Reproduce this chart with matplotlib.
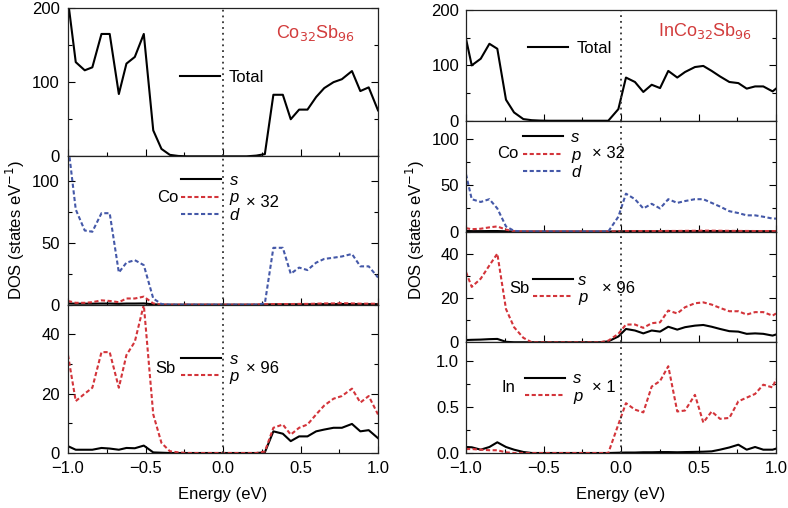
import numpy as np
import matplotlib
matplotlib.use('Agg')
import matplotlib.pyplot as plt
from matplotlib.ticker import MultipleLocator, FuncFormatter

plt.rcParams['font.family'] = ['Liberation Sans', 'DejaVu Sans']
plt.rcParams['font.size'] = 10

# ---- Co32Sb96 (left column) ----
E_L = [-1.0, -0.95, -0.892, -0.843, -0.784, -0.731, -0.672, -0.623, -0.569, -0.511,
       -0.45, -0.397, -0.343, -0.288, -0.233, -0.178, -0.123, -0.068, -0.013, 0.042,
       0.097, 0.152, 0.215, 0.27, 0.325, 0.386, 0.437, 0.491, 0.545, 0.601,
       0.653, 0.713, 0.767, 0.832, 0.886, 0.94, 1.0]
total_L = [210, 127, 116, 120, 165, 165, 84, 125, 134, 165,
           35, 10, 2, 0.5, 0, 0, 0, 0, 0, 0,
           0, 0, 1, 3, 83, 83, 50, 63, 63, 80,
           92, 100, 104, 115, 88, 93, 62]
co_s_L = [1, 0.8, 0.8, 0.8, 0.9, 0.9, 0.7, 0.9, 0.9, 1,
          0.3, 0, 0, 0, 0, 0, 0, 0, 0, 0,
          0, 0, 0, 0.1, 0.3, 0.3, 0.3, 0.3, 0.3, 0.4,
          0.4, 0.4, 0.5, 0.5, 0.4, 0.4, 0.4]
co_p_L = [3, 1.5, 1.5, 2, 3.5, 3, 2, 5, 5, 6.5,
          1, 0, 0, 0, 0, 0, 0, 0, 0, 0,
          0, 0, 0.2, 0.3, 0.5, 0.5, 0.5, 0.6, 0.6, 0.8,
          1, 1, 1.2, 1, 0.8, 0.8, 0.7]
co_d_L = [130, 77, 60, 59, 74, 74, 26, 34, 36, 32,
          5, 0.5, 0, 0, 0, 0, 0, 0, 0, 0,
          0, 0, 0, 1, 46, 46, 25, 30, 28, 34,
          37, 38, 39, 41, 31, 31, 22]
sb_s_L = [2.3, 1.1, 1.1, 1.1, 1.7, 1.5, 1.1, 1.7, 1.6, 2.5,
          0.2, 0.1, 0, 0, 0, 0, 0, 0, 0, 0,
          0, 0, 0, 0.2, 7.3, 6.5, 4, 5.6, 5.6, 7.3,
          7.9, 8.5, 8.5, 9.8, 7.3, 7.7, 5]
sb_p_L = [33, 17.5, 20, 22, 34, 34, 22, 33, 37.5, 50,
          13, 3.4, 0.6, 0.2, 0, 0, 0, 0, 0, 0,
          0, 0, 0, 0.5, 8.5, 9.6, 6.2, 8.5, 9.6, 13,
          16, 18.3, 19.2, 21.7, 17, 19.2, 13]

# ---- InCo32Sb96 (right column) ----
E_R = [-1.0, -0.963, -0.905, -0.849, -0.798, -0.742, -0.69, -0.63, -0.576, -0.521,
       -0.466, -0.411, -0.356, -0.301, -0.246, -0.191, -0.136, -0.082, -0.017, 0.032,
       0.09, 0.144, 0.198, 0.252, 0.305, 0.363, 0.413, 0.477, 0.531, 0.585,
       0.639, 0.699, 0.757, 0.811, 0.865, 0.918, 0.978, 1.0]
total_R = [148, 100, 112, 139, 130, 38, 15, 3, 1, 0.3,
           0, 0, 0, 0, 0, 0, 0, 0, 21, 78,
           70, 52, 65, 59, 90, 78, 88, 97, 99, 90,
           80, 70, 68, 58, 62, 62, 53, 58]
co_s_R = [0.5, 0.4, 0.4, 0.5, 0.5, 0.2, 0, 0, 0, 0,
          0, 0, 0, 0, 0, 0, 0, 0, 0.1, 0.3,
          0.3, 0.3, 0.3, 0.3, 0.4, 0.4, 0.4, 0.5, 0.5, 0.5,
          0.4, 0.4, 0.4, 0.3, 0.3, 0.3, 0.3, 0.3]
co_p_R = [3.6, 2.5, 3, 4.5, 5.5, 2, 0.3, 0, 0, 0,
          0, 0, 0, 0, 0, 0, 0, 0, 0.2, 0.5,
          0.5, 0.5, 0.5, 0.5, 0.6, 0.6, 0.7, 0.8, 0.9, 0.9,
          0.8, 0.7, 0.6, 0.6, 0.5, 0.5, 0.5, 0.5]
co_d_R = [62, 35, 32, 35, 25, 5.5, 0.7, 0, 0, 0,
          0, 0, 0, 0, 0, 0, 0, 0, 16, 41,
          35, 25, 30, 25, 35, 31, 33, 35, 35, 31,
          27, 22, 20, 17.5, 17.5, 16, 14, 14]
sb_s_R = [1, 1.1, 1.2, 1.4, 1.5, 0.2, 0, 0, 0, 0,
          0, 0, 0, 0, 0, 0, 0, 0.4, 2.6, 6,
          5.3, 4, 5.3, 4.8, 7, 5.7, 6.8, 7.5, 7.8, 7,
          6, 5, 4.8, 3.8, 4, 3.8, 3, 3.5]
sb_p_R = [31.7, 25, 28.7, 34.7, 40, 15, 6.8, 2, 0, 0,
          0, 0, 0, 0, 0, 0, 0, 0.7, 3.8, 8,
          8, 6.5, 8.6, 9, 14.3, 13, 15.8, 17.6, 18, 17,
          15.5, 14, 14, 12.5, 13.6, 13.6, 12, 13]
in_s_R = [0.065, 0.062, 0.036, 0.065, 0.116, 0.065, 0.036, 0.011, 0, 0,
          0, 0, 0, 0, 0, 0, 0, 0, 0.003, 0.005,
          0.005, 0.008, 0.008, 0.01, 0.01, 0.008, 0.01, 0.012, 0.014, 0.018,
          0.036, 0.06, 0.09, 0.036, 0.065, 0.036, 0.036, 0.047]
in_p_R = [0.043, 0.043, 0.036, 0.03, 0.03, 0.007, 0, 0, 0, 0,
          0, 0, 0, 0, 0, 0, 0, 0, 0.31, 0.54,
          0.47, 0.44, 0.72, 0.78, 0.94, 0.45, 0.46, 0.63, 0.33, 0.45,
          0.37, 0.38, 0.56, 0.6, 0.64, 0.74, 0.71, 0.8]

RED = '#d3343a'
BLUE = '#4458a8'
TITLE_RED = '#d23c3c'

fig = plt.figure(figsize=(7.88, 5.08), dpi=100)

left_x, right_x, width = 68 / 788, 466 / 788, 310 / 788
bottom = (508 - 453) / 508


def make_column(x0, top_px, n):
    h = (453 - top_px) / 508 / n
    axes = []
    for i in range(n):
        ax = fig.add_axes([x0, bottom + (n - 1 - i) * h, width, h])
        axes.append(ax)
    return axes


fmt = FuncFormatter(lambda v, p: ('%.1f' % v).replace('-', '\u2212'))


def style(ax, ylim, major, show_x=False, yfmt=None, ypad=5):
    ax.set_xlim(-1, 1)
    ax.set_ylim(*ylim)
    ax.xaxis.set_major_locator(MultipleLocator(0.5))
    ax.xaxis.set_minor_locator(MultipleLocator(0.25))
    ax.yaxis.set_major_locator(MultipleLocator(major))
    ax.yaxis.set_minor_locator(MultipleLocator(major / 2))
    ax.tick_params(which='both', direction='in', left=True, right=True,
                   top=False, bottom=True, labelsize=12)
    ax.tick_params(which='major', length=5, width=0.8)
    ax.tick_params(which='minor', length=3, width=0.8)
    ax.tick_params(axis='x', pad=6)
    ax.tick_params(axis='y', pad=ypad)
    for s in ax.spines.values():
        s.set_linewidth(0.9)
        s.set_color('#222222')
    if show_x:
        ax.xaxis.set_major_formatter(fmt)
        ax.set_xlabel('Energy (eV)', fontsize=12, labelpad=8)
    else:
        ax.tick_params(labelbottom=False)
    if yfmt is not None:
        ax.yaxis.set_major_formatter(yfmt)
    ax.axvline(0, color='#333333', ls=(0, (1, 2.2)), lw=1.3)


leg_kw = dict(frameon=False, borderpad=0, borderaxespad=0, handlelength=2.4,
              handletextpad=0.5, labelspacing=0.15,
              prop={'style': 'italic', 'size': 12}, loc='center left')

# left column
axL = make_column(left_x, 8, 3)
ax = axL[0]
ax.plot(E_L, total_L, color='black', lw=1.5, label='Total')
style(ax, (0, 200), 100, ypad=6)
ax.legend(frameon=False, borderpad=0, borderaxespad=0, handlelength=2.4,
          handletextpad=0.5, fontsize=12, loc='center left',
          bbox_to_anchor=(0.361, 0.534))
ax.text(0.797, 0.83, 'Co$_{32}$Sb$_{96}$', transform=ax.transAxes, color=TITLE_RED,
        fontsize=13, ha='center', va='center')

ax = axL[1]
ax.plot(E_L, co_s_L, color='black', lw=1.5, label='s')
ax.plot(E_L, co_p_L, color=RED, lw=1.5, ls=(0, (2, 1.2)), label='p')
ax.plot(E_L, co_d_L, color=BLUE, lw=1.5, ls=(0, (2, 1.2)), label='d')
style(ax, (0, 120), 50, ypad=6)
ax.legend(bbox_to_anchor=(0.365, 0.72), **leg_kw)
ax.text(0.355, 0.72, 'Co', transform=ax.transAxes, fontsize=12, ha='right', va='center')
ax.text(0.575, 0.69, '\u00d7 32', transform=ax.transAxes, fontsize=12, ha='left', va='center')

ax = axL[2]
ax.plot(E_L, sb_s_L, color='black', lw=1.5, label='s')
ax.plot(E_L, sb_p_L, color=RED, lw=1.5, ls=(0, (2, 1.2)), label='p')
style(ax, (0, 50), 20, show_x=True, ypad=6)
ax.legend(bbox_to_anchor=(0.365, 0.573), **leg_kw)
ax.text(0.348, 0.573, 'Sb', transform=ax.transAxes, fontsize=12, ha='right', va='center')
ax.text(0.575, 0.573, '\u00d7 96', transform=ax.transAxes, fontsize=12, ha='left', va='center')

# right column
axR = make_column(right_x, 10, 4)
ax = axR[0]
ax.plot(E_R, total_R, color='black', lw=1.5, label='Total')
style(ax, (0, 200), 100)
ax.legend(frameon=False, borderpad=0, borderaxespad=0, handlelength=2.4,
          handletextpad=0.5, fontsize=12, loc='center left',
          bbox_to_anchor=(0.2, 0.655))
ax.text(0.771, 0.81, 'InCo$_{32}$Sb$_{96}$', transform=ax.transAxes, color=TITLE_RED,
        fontsize=13, ha='center', va='center')

ax = axR[1]
ax.plot(E_R, co_s_R, color='black', lw=1.5, label='s')
ax.plot(E_R, co_p_R, color=RED, lw=1.5, ls=(0, (2, 1.2)), label='p')
ax.plot(E_R, co_d_R, color=BLUE, lw=1.5, ls=(0, (2, 1.2)), label='d')
style(ax, (0, 120), 50)
ax.legend(bbox_to_anchor=(0.184, 0.69), **leg_kw)
ax.text(0.168, 0.70, 'Co', transform=ax.transAxes, fontsize=12, ha='right', va='center')
ax.text(0.405, 0.70, '\u00d7 32', transform=ax.transAxes, fontsize=12, ha='left', va='center')

ax = axR[2]
ax.plot(E_R, sb_s_R, color='black', lw=1.5, label='s')
ax.plot(E_R, sb_p_R, color=RED, lw=1.5, ls=(0, (2, 1.2)), label='p')
style(ax, (0, 50), 20)
ax.legend(bbox_to_anchor=(0.216, 0.482), handletextpad=0.3,
          **{k: v for k, v in leg_kw.items() if k != 'handletextpad'})
ax.text(0.206, 0.482, 'Sb', transform=ax.transAxes, fontsize=12, ha='right', va='center')
ax.text(0.44, 0.482, '\u00d7 96', transform=ax.transAxes, fontsize=12, ha='left', va='center')

ax = axR[3]
ax.plot(E_R, in_s_R, color='black', lw=1.5, label='s')
ax.plot(E_R, in_p_R, color=RED, lw=1.5, ls=(0, (2, 1.2)), label='p')
style(ax, (0, 1.2), 0.5, show_x=True, yfmt=fmt)
ax.legend(bbox_to_anchor=(0.19, 0.59), **leg_kw)
ax.text(0.158, 0.59, 'In', transform=ax.transAxes, fontsize=12, ha='right', va='center')
ax.text(0.405, 0.59, '\u00d7 1', transform=ax.transAxes, fontsize=12, ha='left', va='center')

fig.text(15 / 788, 1 - 230 / 508, 'DOS (states eV$^{\u22121}$)', rotation=90,
         ha='center', va='center', fontsize=12)
fig.text(415 / 788, 1 - 230 / 508, 'DOS (states eV$^{\u22121}$)', rotation=90,
         ha='center', va='center', fontsize=12)

fig.savefig('out.png', dpi=100)
